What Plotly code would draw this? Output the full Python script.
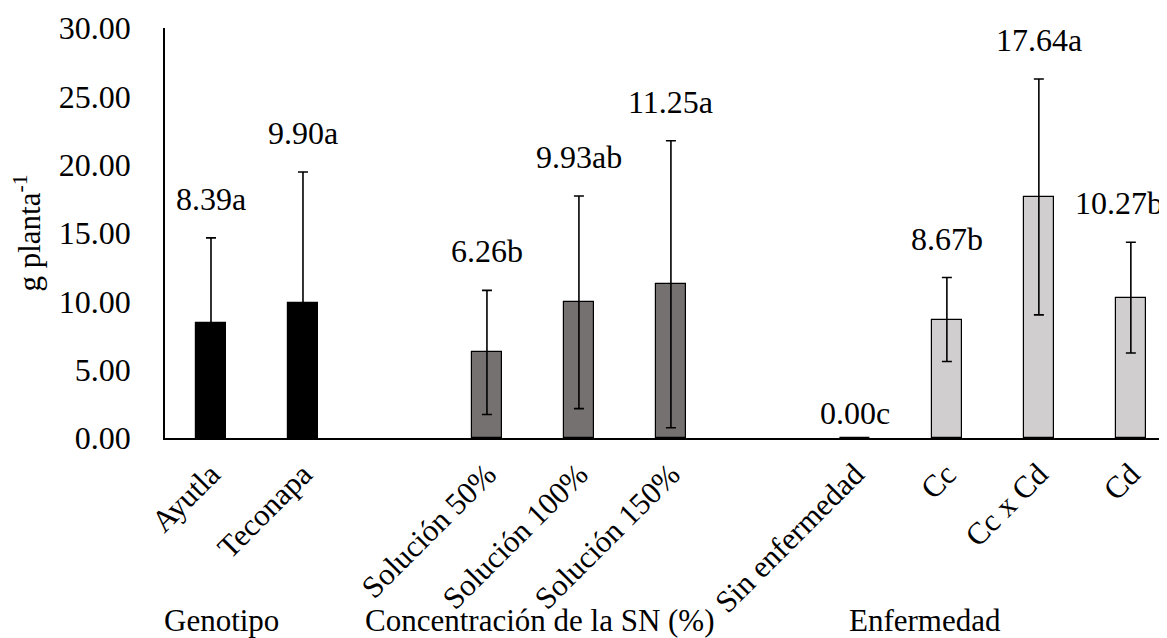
import plotly.graph_objects as go

# ---- data ----
genotipo_cats = ["Ayutla", "Teconapa"]
genotipo_vals = [8.39, 9.90]
genotipo_err = [6.25, 9.56]
genotipo_lbl = ["8.39a", "9.90a"]

conc_cats = ["Solución 50%", "Solución 100%", "Solución 150%"]
conc_vals = [6.26, 9.93, 11.25]
conc_err = [4.54, 7.78, 10.50]
conc_lbl = ["6.26b", "9.93ab", "11.25a"]

enf_cats = ["Sin enfermedad", "Cc", "Cc x Cd", "Cd"]
enf_vals = [0.00, 8.67, 17.64, 10.27]
enf_err = [0.00, 3.07, 8.63, 4.05]
enf_lbl = ["0.00c", "8.67b", "17.64a", "10.27b"]

group_titles = ["Genotipo", "Concentración de la SN (%)", "Enfermedad"]
y_ticks = [0, 5, 10, 15, 20, 25, 30]

gap1, gap2 = " ", "  "
cat_order = genotipo_cats + [gap1] + conc_cats + [gap2] + enf_cats

FONT = "Liberation Serif, Times New Roman, serif"
NUM = 32
TXT = 31
groups = [
    (genotipo_cats, genotipo_vals, genotipo_err, genotipo_lbl, "#000000"),
    (conc_cats, conc_vals, conc_err, conc_lbl, "#767171"),
    (enf_cats, enf_vals, enf_err, enf_lbl, "#D0CECE"),
]

fig = go.Figure()
annotations = []
for cats, vals, errs, lbls, col in groups:
    fig.add_trace(go.Bar(
        x=cats, y=vals, width=0.33,
        marker=dict(color=col, line=dict(color="#000000", width=1.2)),
        error_y=dict(type="data", array=errs, visible=True, color="#000000",
                     thickness=1.6, width=5),
        showlegend=False, cliponaxis=False,
    ))
    for c, v, e, t in zip(cats, vals, errs, lbls):
        annotations.append(dict(
            x=c, y=v + e, xref="x", yref="y", text=t, showarrow=False,
            yanchor="bottom", yshift=19 if e > 0 else 5,
            xshift=-12 if (cats is enf_cats and c == cats[-1]) else 0,
            font=dict(family=FONT, size=NUM, color="#000000"),
        ))

# group titles under the axis
group_pos = [0.11, 3.58, 7.76]
for t, gx in zip(group_titles, group_pos):
    annotations.append(dict(
        x=gx, y=-0.446, xref="x", yref="paper", text=t, showarrow=False,
        xanchor="center", yanchor="middle",
        font=dict(family=FONT, size=TXT, color="#000000"),
    ))

fig.update_layout(
    width=1167, height=638,
    margin=dict(l=157, r=0, t=20, b=208),
    plot_bgcolor="white", paper_bgcolor="white",
    font=dict(family=FONT, size=TXT, color="#000000"),
    annotations=annotations,
    bargap=0.0,
)
fig.update_xaxes(
    type="category", categoryorder="array", categoryarray=cat_order,
    range=[-0.5, 10.48], showline=True, linecolor="#000000", linewidth=1.5,
    ticks="outside", ticklen=4, tickcolor="rgba(0,0,0,0)", tickangle=-45,
    tickvals=genotipo_cats + conc_cats + enf_cats,
    tickfont=dict(family=FONT, size=TXT), showgrid=False, zeroline=False,
)
fig.update_yaxes(
    range=[0, 30], tickvals=y_ticks, tickformat=".2f",
    showline=True, linecolor="#000000", linewidth=1.5,
    ticks="outside", ticklen=26, tickcolor="rgba(0,0,0,0)",
    tickfont=dict(family=FONT, size=NUM), showgrid=False, zeroline=False,
    title=dict(text="g planta<sup>-1</sup>", font=dict(family=FONT, size=TXT), standoff=22),
)

fig.write_html("out.html")
